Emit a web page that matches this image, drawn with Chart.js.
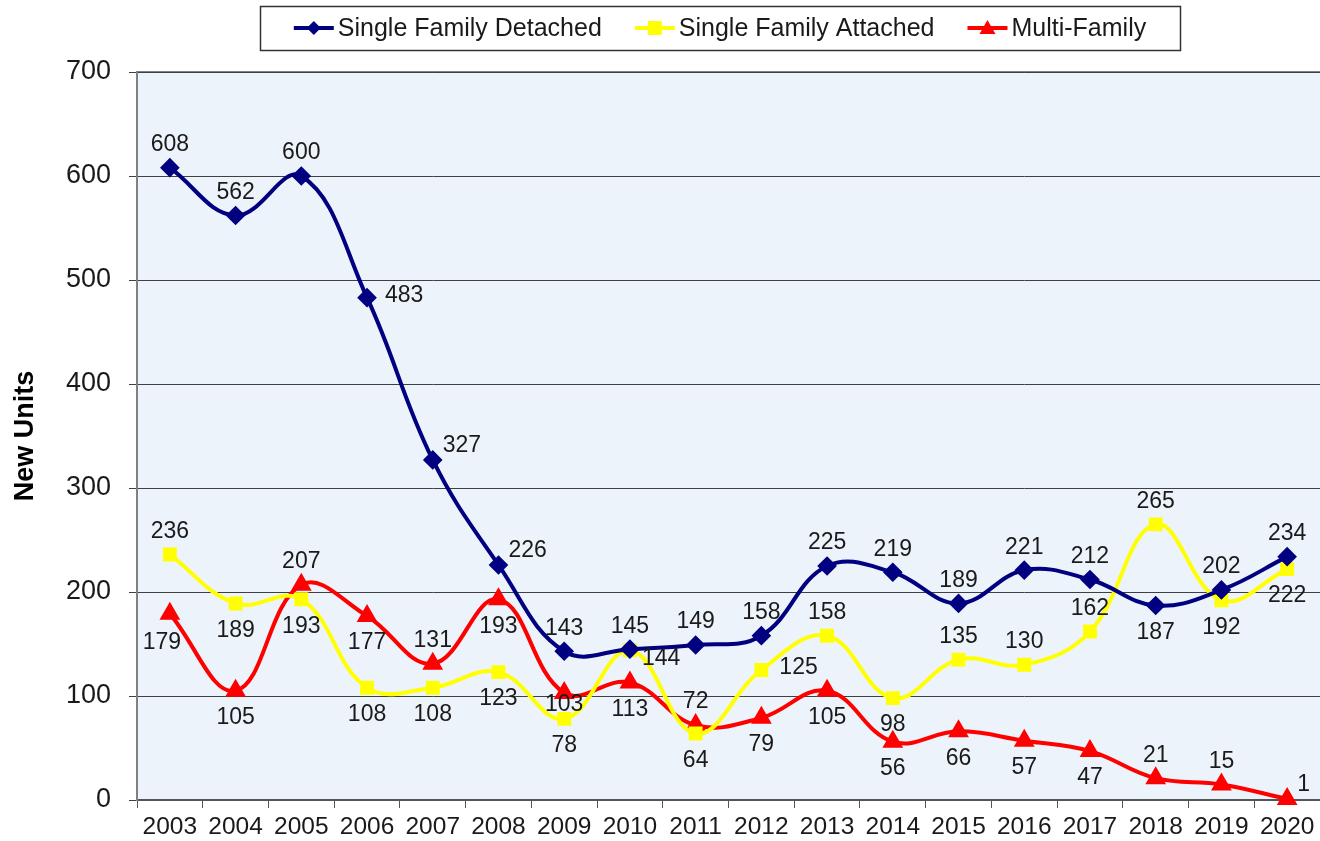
<!DOCTYPE html>
<html>
<head>
<meta charset="utf-8">
<script src="https://cdn.jsdelivr.net/npm/chart.js@4.4.1/dist/chart.umd.min.js"></script>
<style>
  html, body { margin: 0; padding: 0; background: #fff; overflow: hidden; }
  canvas { display: block; }
</style>
</head>
<body>
<canvas id="unitsChart" width="1320" height="841"></canvas>
<script>
// new housing units by type, 2003-2020
const years = ["2003", "2004", "2005", "2006", "2007", "2008", "2009", "2010", "2011",
  "2012", "2013", "2014", "2015", "2016", "2017", "2018", "2019", "2020"];
const sfDetached = [608, 562, 600, 483, 327, 226, 143, 145, 149, 158, 225, 219, 189, 221, 212, 187, 202, 234];
const sfAttached = [236, 189, 193, 108, 108, 123, 78, 144, 64, 125, 158, 98, 135, 130, 162, 265, 192, 222];
const multiFamily = [179, 105, 207, 177, 131, 193, 103, 113, 72, 79, 105, 56, 66, 57, 47, 21, 15, 1];
const yTicks = [0, 100, 200, 300, 400, 500, 600, 700];

// where each value label sits relative to its point
const sfdLabelPos = ["a", "a", "a", "r", "ar", "ar", "a", "a", "a", "a", "a", "a", "a", "a", "a", "b", "a", "a"];
const sfaLabelPos = ["a", "b", "b", "b", "b", "b", "b", "br", "b", "r", "a", "b", "a", "a", "a", "a", "b", "b"];
const mfLabelPos = ["bl", "b", "a", "b", "a", "b", "c", "b", "a", "b", "b", "b", "b", "b", "b", "a", "a", "ar"];

const FONT = "'Liberation Sans', Arial, sans-serif";
const offsets = {
  a: [0, -23, "center"], b: [0, 27, "center"], r: [18, -2, "left"],
  ar: [10, -14, "left"], br: [12, 8, "left"], bl: [-8, 29, "center"], c: [0, 12, "center"]
};

function drawMarker(ctx, style, x, y, color) {
  ctx.fillStyle = color;
  ctx.beginPath();
  if (style === "rectRot") {
    ctx.moveTo(x, y - 7); ctx.lineTo(x + 7, y); ctx.lineTo(x, y + 7); ctx.lineTo(x - 7, y);
  } else if (style === "rect") {
    ctx.rect(x - 7, y - 7, 14, 14);
  } else {
    ctx.moveTo(x, y - 8); ctx.lineTo(x + 8, y + 6); ctx.lineTo(x - 8, y + 6);
  }
  ctx.closePath();
  ctx.fill();
}

const plotBg = {
  id: "plotBg",
  beforeDraw(chart) {
    const { ctx, chartArea: a } = chart;
    ctx.save();
    ctx.fillStyle = "#EDF3FA";
    ctx.fillRect(a.left, a.top, a.right - a.left, a.bottom - a.top);
    ctx.strokeStyle = "#808080";
    ctx.lineWidth = 2;
    ctx.beginPath();
    ctx.moveTo(a.left, a.top); ctx.lineTo(a.right, a.top);
    ctx.stroke();
    ctx.restore();
  }
};

const valueLabels = {
  id: "valueLabels",
  afterDatasetsDraw(chart) {
    const ctx = chart.ctx;
    ctx.save();
    ctx.font = "23px " + FONT;
    ctx.fillStyle = "#1a1a1a";
    ctx.textBaseline = "middle";
    chart.data.datasets.forEach((ds, i) => {
      const meta = chart.getDatasetMeta(i);
      meta.data.forEach((pt, j) => {
        const o = offsets[ds.labelPos[j]];
        ctx.textAlign = o[2];
        ctx.fillText(String(ds.data[j]), pt.x + o[0], pt.y + o[1]);
      });
    });
    ctx.restore();
  }
};

const boxLegend = {
  id: "boxLegend",
  afterDraw(chart) {
    const ctx = chart.ctx;
    ctx.save();
    ctx.strokeStyle = "#333";
    ctx.lineWidth = 1.5;
    ctx.strokeRect(260.5, 6.5, 920, 44);
    ctx.font = "25px " + FONT;
    ctx.textBaseline = "middle";
    ctx.textAlign = "left";
    const gap = 33;
    const items = chart.data.datasets.map(ds => ({ ds, w: 44 + ctx.measureText(ds.label).width }));
    const total = items.reduce((s, it) => s + it.w, 0) + gap * (items.length - 1);
    let x = 720 - total / 2;
    const y = 28;
    items.forEach(it => {
      ctx.strokeStyle = it.ds.borderColor;
      ctx.lineWidth = 4;
      ctx.beginPath();
      ctx.moveTo(x, y); ctx.lineTo(x + 40, y);
      ctx.stroke();
      drawMarker(ctx, it.ds.pointStyle, x + 20, y, it.ds.borderColor);
      ctx.fillStyle = "#1a1a1a";
      ctx.fillText(it.ds.label, x + 44, y + 1);
      x += it.w + gap;
    });
    ctx.restore();
  }
};

function series(label, data, color, style, radius, labelPos) {
  return {
    label, data, labelPos,
    borderColor: color, backgroundColor: color,
    pointBackgroundColor: color, pointBorderColor: color,
    pointStyle: style, pointRadius: radius, pointHoverRadius: radius,
    borderWidth: 4, tension: 0.4, fill: false, clip: false
  };
}

new Chart(document.getElementById("unitsChart"), {
  type: "line",
  data: {
    labels: years,
    datasets: [
      series("Single Family Detached", sfDetached, "#000080", "rectRot", 7, sfdLabelPos),
      series("Single Family Attached", sfAttached, "#FFFF00", "rect", 7, sfaLabelPos),
      series("Multi-Family", multiFamily, "#FF0000", "triangle", 8, mfLabelPos)
    ]
  },
  options: {
    responsive: false,
    animation: false,
    devicePixelRatio: 1,
    layout: { autoPadding: false, padding: { top: 72, right: 0, left: 0, bottom: 0 } },
    plugins: { legend: { display: false }, tooltip: { enabled: false } },
    scales: {
      x: {
        offset: true,
        grid: { offset: true, drawOnChartArea: false, drawTicks: true, tickLength: 8, color: "#555" },
        border: { color: "#555", width: 2 },
        ticks: { color: "#1a1a1a", font: { family: FONT, size: 24.5 }, padding: 5, maxRotation: 0, autoSkip: false },
        afterFit(scale) { scale.height = 41; }
      },
      y: {
        min: 0, max: 700,
        afterBuildTicks(scale) { scale.ticks = yTicks.map(v => ({ value: v })); },
        grid: { color: "#404040", lineWidth: 1, tickLength: 8 },
        border: { color: "#808080", width: 2 },
        ticks: { color: "#1a1a1a", font: { family: FONT, size: 27 }, padding: 18 },
        title: {
          display: true, text: "New Units", color: "#000",
          font: { family: FONT, size: 27, weight: "bold" }, padding: { top: 9, bottom: 0 }
        },
        afterFit(scale) { scale.width = 137; }
      }
    }
  },
  plugins: [plotBg, valueLabels, boxLegend]
});
</script>
</body>
</html>
